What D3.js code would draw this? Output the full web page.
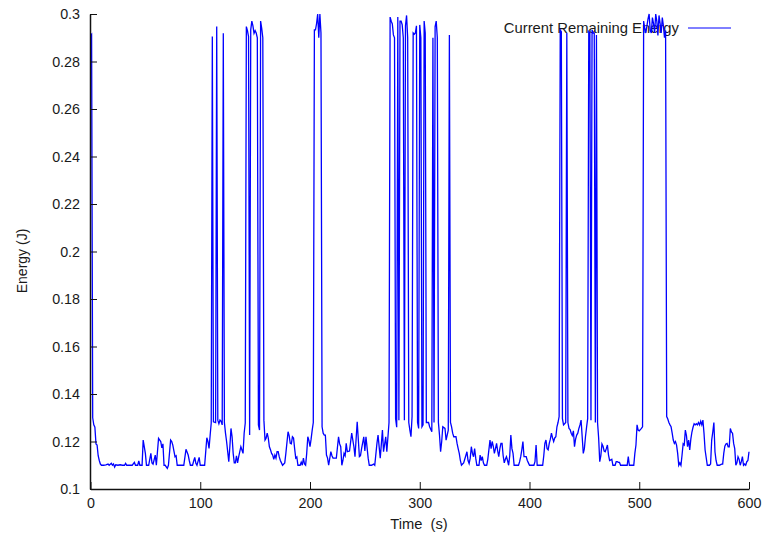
<!DOCTYPE html>
<html>
<head>
<meta charset="utf-8">
<script src="https://cdn.jsdelivr.net/npm/d3@7"></script>
<style>
  html, body { margin: 0; padding: 0; background: #fff; }
  svg { display: block; font-family: "Liberation Sans", Arial, sans-serif; }
</style>
</head>
<body>
<svg id="chart" width="763" height="535"></svg>
<script>
// ---- data ----
const xTicks = [0, 100, 200, 300, 400, 500, 600];
const xTickLabels = ["0", "100", "200", "300", "400", "500", "600"];
const yTicks = [0.1, 0.12, 0.14, 0.16, 0.18, 0.2, 0.22, 0.24, 0.26, 0.28, 0.3];
const yTickLabels = ["0.1", "0.12", "0.14", "0.16", "0.18", "0.2", "0.22", "0.24", "0.26", "0.28", "0.3"];
const seriesName = "Current Remaining Energy";
const xTitle = "Time  (s)";
const yTitle = "Energy (J)";

const timeS = [
  0,1,2,3,4,5,6,7,8,9,10,12,14,16,17,19,20,21,22,23,25,27,29,31,32,33,36,38,40,41,43,44,45,47,48,50,
  51,53,55,56,57,59,60,62,64,65,66,67,68,70,71,73,74,75,77,78,79,81,83,85,87,89,90,91,93,94,95,96,97,99,
  100,102,104,106,107,108,109,110,111,112,114,115,116,117,118,119,120,121,122,123,124,126,127,128,129,130,
  131,132,133,134,135,137,138,139,140,141,142,143,144,145,146,147,148,149,150,151,152,153,154,155,156,157,158,
  159,160,161,162,163,164,165,166,167,168,169,170,171,172,173,174,175,177,178,180,181,182,183,184,185,186,187,188,189,
  191,192,193,194,195,196,197,198,199,200,201,202,203,204,205,206,207,208,209,210,211,212,213,214,215,216,217,
  219,220,221,222,224,226,227,228,229,230,231,232,233,234,236,238,240,241,243,245,246,247,249,250,251,253,254,256,258,259,
  261,262,264,266,267,269,270,272,273,274,275,276,277,278,279,280,281,282,283,284,285,286,287,288,289,290,
  291,292,293,294,295,296,297,298,299,300,301,302,303,304,305,306,308,309,311,312,313,314,315,316,317,318,319,320,
  321,323,324,326,327,328,329,330,331,333,334,335,336,337,338,339,340,341,343,344,345,346,347,348,349,350,
  351,352,354,355,356,357,358,359,361,362,364,365,366,367,368,369,370,371,372,373,374,375,376,377,378,379,380,
  381,382,383,384,385,386,388,390,391,392,393,394,395,397,398,399,400,402,404,405,406,407,408,410,
  412,413,414,415,416,417,418,419,420,421,422,423,424,425,426,427,428,429,430,
  431,432,433,434,435,436,437,438,439,440,441,442,443,444,445,446,447,448,449,450,
  451,452,453,454,455,456,457,458,459,460,461,462,463,464,465,466,467,468,469,470,
  471,472,473,475,476,478,479,480,481,482,483,485,487,489,490,491,493,495,496,497,498,499,500,
  501,502,503,504,505,506,507,508,509,510,511,512,513,514,515,516,517,518,519,520,
  521,522,523,524,525,526,527,528,529,530,531,532,533,534,535,536,537,538,539,540,
  541,542,543,544,545,546,547,548,549,550,551,552,553,554,555,556,557,558,559,560,
  562,564,565,566,567,568,569,570,571,573,575,576,577,578,579,580,
  581,582,583,584,585,586,587,588,589,590,591,592,593,594,595,596,597,598,599,600
];

const energyJ = [
  .291,.2915,.130,.127,.126,.119,.1185,.114,.112,.1105,.110,.110,.1102,.1105,.110,.1108,.110,.1105,.1092,.1102,.110,.1102,.110,.110,.1108,.110,.110,.110,.1112,.110,.110,.1118,.110,.110,.1206,.115,
  .110,.110,.115,.111,.1105,.1143,.110,.1213,.120,.1173,.119,.110,.110,.1087,.110,.1206,.120,.1185,.1136,.114,.110,.110,.110,.110,.1167,.1143,.112,.110,.110,.1118,.1133,.1108,.110,.1133,
  .110,.110,.110,.1216,.120,.1171,.1225,.1278,.2905,.1283,.128,.2947,.129,.1275,.129,.1285,.127,.2919,.128,.1235,.120,.1115,.118,.1255,.122,.115,
  .111,.111,.114,.111,.1135,.1178,.1164,.115,.1235,.1278,.2947,.293,.2905,.1227,.2933,.297,.295,.2919,.293,.292,.290,.127,.1248,.297,.294,.290,.129,
  .1206,.1214,.1235,.1214,.1178,.1165,.115,.1143,.1125,.1143,.113,.1157,.1157,.1135,.112,.111,.110,.111,.115,.1241,.1225,.1192,.119,.122,.1215,.117,.113,.1135,.110,
  .110,.1113,.110,.113,.1105,.110,.115,.122,.1205,.1178,.121,.1248,.128,.2933,.2933,.296,.300,.290,.300,.292,.1262,.1235,.1227,.1227,.1143,.113,.110,
  .1157,.114,.113,.113,.113,.122,.119,.1178,.110,.112,.115,.114,.1192,.1157,.116,.1235,.1178,.1136,.1283,.1136,.114,.117,.122,.116,.122,.113,.110,.110,.1105,.110,
  .1192,.1227,.113,.1248,.1157,.122,.1157,.128,.2987,.297,.2958,.2912,.290,.1296,.126,.2987,.129,.297,.297,.2955,.290,.129,.295,.2994,.290,.128,
  .1248,.122,.1305,.292,.2915,.292,.295,.128,.1255,.2954,.290,.1262,.127,.297,.292,.128,.128,.1262,.1241,.290,.128,.2947,.297,.290,.128,.1227,.1157,.120,
  .1262,.1255,.1206,.1248,.2912,.128,.1262,.1235,.122,.122,.1192,.117,.115,.112,.110,.1105,.111,.1125,.1157,.112,.1107,.113,.1178,.115,.1136,.117,
  .113,.110,.110,.1143,.112,.1136,.111,.110,.110,.1125,.1206,.117,.120,.118,.115,.117,.1192,.116,.1136,.117,.1192,.1192,.114,.111,.1125,.1136,.112,
  .110,.114,.1227,.117,.115,.110,.110,.110,.1115,.1136,.1165,.120,.1136,.1136,.112,.111,.110,.110,.110,.1115,.1185,.110,.110,.110,
  .110,.114,.1192,.1206,.117,.1165,.1192,.121,.1235,.1215,.120,.1215,.122,.1262,.128,.1305,.2933,.2926,.1296,
  .127,.1275,.128,.292,.128,.1255,.125,.1235,.1225,.1245,.1178,.121,.1227,.1235,.1255,.127,.129,.122,.115,.117,
  .122,.126,.1296,.2926,.292,.129,.2933,.292,.292,.128,.2912,.128,.1215,.1115,.114,.119,.118,.116,.1157,.117,
  .1185,.1143,.112,.1125,.110,.110,.1115,.1115,.1112,.1112,.110,.110,.110,.110,.1136,.110,.110,.110,.115,.1185,.127,.1248,.1245,
  .125,.1255,.1262,.297,.294,.292,.295,.298,.300,.293,.292,.2985,.296,.292,.300,.297,.291,.2994,.296,.292,
  .2985,.295,.290,.293,.1305,.1295,.128,.127,.1262,.1235,.1206,.1192,.120,.1185,.115,.110,.111,.110,.1143,.119,
  .1185,.1248,.1225,.1178,.1206,.1164,.121,.124,.126,.1275,.127,.1275,.127,.128,.127,.1285,.127,.129,.1235,.1164,
  .110,.110,.1105,.1206,.124,.128,.1157,.112,.110,.110,.1105,.1105,.115,.118,.119,.1192,
  .1178,.1178,.1255,.124,.1235,.1192,.117,.110,.111,.1136,.1125,.110,.1115,.1136,.110,.1105,.110,.1115,.112,.1157
];

// ---- layout ----
const svg = d3.select("#chart");
const x = d3.scaleLinear().domain([0, 600]).range([90.5, 749]);
const y = d3.scaleLinear().domain([0.1, 0.3]).range([489, 14]);
const textColor = "#1a1a1a";

svg.append("defs").append("clipPath").attr("id", "plotclip")
  .append("rect").attr("x", 90).attr("y", 13).attr("width", 662).attr("height", 478);

// legend (drawn beneath data, as in reference)
svg.append("text")
  .attr("x", 679).attr("y", 33)
  .attr("text-anchor", "end")
  .attr("font-size", 14.8)
  .attr("fill", textColor)
  .text(seriesName);
svg.append("line")
  .attr("x1", 688).attr("x2", 731).attr("y1", 28).attr("y2", 28)
  .attr("stroke", "#0000ff").attr("stroke-width", 1);

// data line
const pts = timeS.map((t, i) => [t, energyJ[i]]);
svg.append("path")
  .datum(pts)
  .attr("clip-path", "url(#plotclip)")
  .attr("fill", "none")
  .attr("stroke", "#0000ff")
  .attr("stroke-width", 1.3)
  .attr("stroke-linejoin", "miter")
  .attr("d", d3.line().x(d => x(d[0])).y(d => y(d[1])));

// axes
const xAxis = d3.axisBottom(x)
  .tickValues(xTicks)
  .tickFormat((d, i) => xTickLabels[i])
  .tickSize(-7).tickSizeOuter(0).tickPadding(9);
const gx = svg.append("g").attr("transform", "translate(0,489)").call(xAxis);

const yAxis = d3.axisLeft(y)
  .tickValues(yTicks)
  .tickFormat((d, i) => yTickLabels[i])
  .tickSize(-7).tickSizeOuter(0).tickPadding(10);
const gy = svg.append("g").attr("transform", "translate(90,0)").call(yAxis);

[gx, gy].forEach(g => {
  g.select(".domain").attr("stroke", "#111").attr("stroke-width", 1.5);
  g.selectAll(".tick line").attr("stroke", "#111").attr("stroke-width", 1);
  g.selectAll(".tick text")
    .attr("font-size", 14.3)
    .attr("font-family", "Liberation Sans, Arial, sans-serif")
    .attr("fill", textColor);
});

// axis titles
svg.append("text")
  .attr("x", 419).attr("y", 529)
  .attr("text-anchor", "middle")
  .attr("font-size", 14.7)
  .attr("fill", textColor)
  .style("white-space", "pre")
  .text(xTitle);

svg.append("text")
  .attr("transform", "translate(27,261) rotate(-90)")
  .attr("text-anchor", "middle")
  .attr("font-size", 14)
  .attr("fill", textColor)
  .text(yTitle);
</script>
</body>
</html>
